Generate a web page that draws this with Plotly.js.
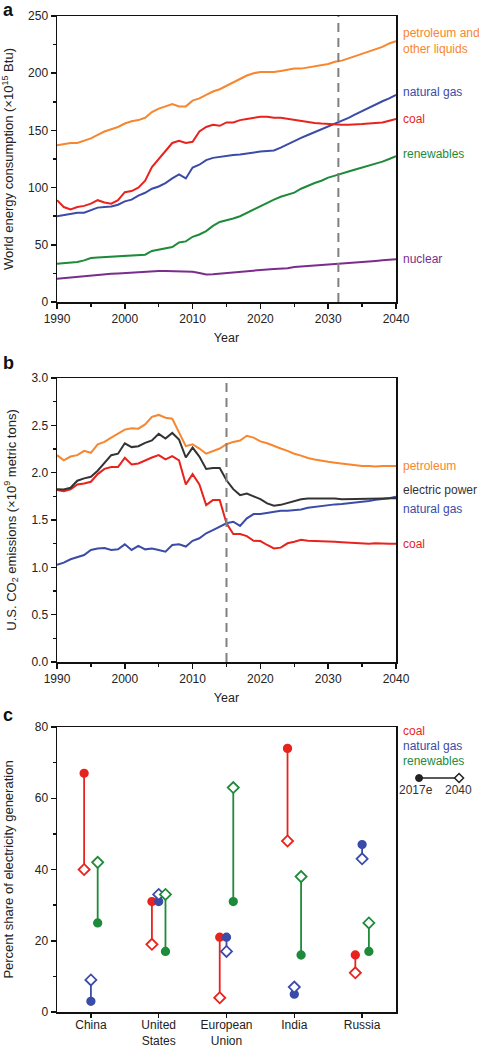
<!DOCTYPE html>
<html>
<head>
<meta charset="utf-8">
<script src="https://cdn.plot.ly/plotly-3.0.1.min.js"></script>
<style>html,body{margin:0;padding:0;background:#fff;}#chart{width:479px;height:1050px;}</style>
</head>
<body>
<div id="chart"></div>
<script>
// ---------- Panel a: world energy consumption (x10^15 Btu) ----------
const yearsA = Array.from({length: 51}, (_, i) => 1990 + i);
const petroleumA = [137,138,139,139,141,143,146,149,151,153, 156,158,159,161,166,169,171,173,171,171, 176,178,181,184,186,189,192,195,198,200, 201,201,201,202,203,204,204,205,206,207, 208,210,211,213,215,217,219,221,223,226,228];
const naturalGasA = [75,76,76.5,78,78,80,82.5,83,83.5,85, 88,89.5,93,95.5,99,101,104,108,111.5,108, 117.5,120,124,126,127,128,128.5,129,130,131, 131.5,132,132.5,135,138,141,143.5,146,148.5,150.5, 153,155.5,158,161,164,167,170,172.5,175.5,178,181];
const coalA = [89,83,81,83,84,86,89,87,86,89, 96,97,100,106,118,125,133,139,141,139, 140,149,153,155,154,157,157,159,160,161, 162,162,161,161,160,159,158,157,156.5,156, 155.5,155,155,155,155,155.5,156,156.5,157,158.5,160];
const renewablesA = [33.5,34,34.4,35,36.4,38.5,39,39.4,39.7,40, 40.5,40.7,41,41.4,44.6,45.8,47,48,52,53, 57,59,62,66.5,70,71.4,73,75,78,81, 84,87,89.5,92,93.6,95.6,99,101.7,104,106, 108.7,110.5,112,114,115.8,117.5,119.3,121,122.7,125,127.4];
const nuclearA = [20.4,21,21.5,22,22.7,23.3,23.8,24.2,24.6,25, 25.4,25.8,26.2,26.4,26.7,27,27,26.8,26.5,26.2, 26.5,25.4,24,24.2,24.8,25.4,25.9,26.4,27,27.6, 28.3,28.5,28.8,29,29.6,30.6,31,31.5,32,32.5, 33,33.4,33.8,34.2,34.6,35,35.4,35.9,36.4,36.9,37.3];
const markerYearA = 2031.5;

// ---------- Panel b: U.S. CO2 emissions (x10^9 metric tons) ----------
const yearsB = Array.from({length: 51}, (_, i) => 1990 + i);
const petroleumB = [2.185,2.13,2.17,2.185,2.23,2.21,2.30,2.325,2.37,2.41, 2.455,2.47,2.465,2.51,2.59,2.61,2.58,2.57,2.43,2.28, 2.30,2.255,2.20,2.23,2.255,2.30,2.325,2.34,2.39,2.37, 2.33,2.31,2.28,2.255,2.23,2.20,2.18,2.155,2.14,2.125, 2.115,2.105,2.095,2.085,2.08,2.07,2.07,2.065,2.07,2.07,2.07];
const electricB = [1.826,1.823,1.84,1.915,1.94,1.956,2.02,2.10,2.185,2.20, 2.31,2.27,2.28,2.315,2.34,2.41,2.36,2.42,2.35,2.16, 2.265,2.17,2.04,2.05,2.05,1.92,1.826,1.763,1.78,1.75, 1.72,1.675,1.65,1.66,1.68,1.70,1.72,1.728,1.728,1.735, 1.735,1.728,1.72,1.72,1.72,1.72,1.72,1.725,1.728,1.73,1.73];
const naturalGasB = [1.026,1.05,1.085,1.106,1.13,1.184,1.20,1.205,1.184,1.19, 1.243,1.184,1.226,1.19,1.198,1.184,1.166,1.236,1.243,1.22, 1.28,1.307,1.36,1.394,1.43,1.465,1.482,1.437,1.517,1.563, 1.563,1.577,1.588,1.598,1.598,1.605,1.612,1.63,1.64,1.65, 1.658,1.665,1.668,1.675,1.68,1.693,1.70,1.714,1.72,1.73,1.746];
const coalB = [1.816,1.805,1.823,1.876,1.886,1.904,1.985,2.04,2.06,2.06, 2.157,2.086,2.097,2.13,2.16,2.185,2.14,2.174,2.13,1.876, 1.985,1.876,1.658,1.71,1.71,1.465,1.352,1.352,1.33,1.28, 1.278,1.236,1.20,1.208,1.254,1.27,1.29,1.28,1.278,1.278, 1.278,1.27,1.265,1.26,1.257,1.254,1.25,1.254,1.25,1.25,1.25];
const markerYearB = 2015;

// ---------- Panel c: percent share of electricity generation ----------
const countries = ['China', 'United<br>States', 'European<br>Union', 'India', 'Russia'];
const coal2017 = [67, 31, 21, 74, 16];
const coal2040 = [40, 19, 4, 48, 11];
const gas2017 = [3, 31, 21, 5, 47];
const gas2040 = [9, 33, 17, 7, 43];
const renew2017 = [25, 17, 31, 16, 17];
const renew2040 = [42, 33, 63, 38, 25];

// ---------- styles ----------
const C = {orange: '#F7862E', blue: '#3A4BA8', red: '#E8231E', green: '#1E8A3A', purple: '#7B2D8C', black: '#333333'};
const FONT = '"Liberation Sans", Arial, Helvetica, sans-serif';

const traces = [];
function line(x, y, color, name, xa, ya) {
  traces.push({x: x, y: y, type: 'scatter', mode: 'lines', name: name, xaxis: xa, yaxis: ya,
    line: {color: color, width: 2}, showlegend: false, hoverinfo: 'x+y+name'});
}
line(yearsA, nuclearA, C.purple, 'nuclear', 'x', 'y');
line(yearsA, renewablesA, C.green, 'renewables', 'x', 'y');
line(yearsA, naturalGasA, C.blue, 'natural gas', 'x', 'y');
line(yearsA, coalA, C.red, 'coal', 'x', 'y');
line(yearsA, petroleumA, C.orange, 'petroleum and other liquids', 'x', 'y');

line(yearsB, naturalGasB, C.blue, 'natural gas', 'x2', 'y2');
line(yearsB, coalB, C.red, 'coal', 'x2', 'y2');
line(yearsB, electricB, C.black, 'electric power', 'x2', 'y2');
line(yearsB, petroleumB, C.orange, 'petroleum', 'x2', 'y2');

function dumbbell(v17, v40, offset, color, name) {
  const x = [], y = [], sym = [], col = [], size = [];
  v17.forEach((v, i) => {
    x.push(i + offset, i + offset, null);
    y.push(v, v40[i], null);
    sym.push('circle', 'diamond', 'circle');
    col.push(color, '#ffffff', color);
    size.push(7.5, 8.5, 0);
  });
  traces.push({x: x, y: y, type: 'scatter', mode: 'lines+markers', name: name, xaxis: 'x3', yaxis: 'y3',
    connectgaps: false, showlegend: false, opacity: 1,
    line: {color: color, width: 1.8},
    marker: {symbol: sym, color: col, size: size, opacity: 1, line: {color: color, width: 1.8}}});
}
dumbbell(coal2017, coal2040, -0.1, C.red, 'coal');
dumbbell(gas2017, gas2040, 0, C.blue, 'natural gas');
dumbbell(renew2017, renew2040, 0.1, C.green, 'renewables');

// ---------- layout ----------
const H = 1050;
const dom = (top, bottom) => [1 - bottom / H, 1 - top / H];
const axisBase = {
  showline: true, linewidth: 1.5, linecolor: '#111', mirror: true,
  ticks: 'outside', ticklen: 5, tickwidth: 1.5, tickcolor: '#111',
  showgrid: false, zeroline: false, fixedrange: true,
  tickfont: {family: FONT, size: 12, color: '#222'}
};
const xTitle = {text: 'Year', font: {family: FONT, size: 12.5, color: '#222'}, standoff: 8};
const yTitleFont = {family: FONT, size: 13, color: '#222'};
const minorTicks = d => ({dtick: d, ticklen: 3, tickwidth: 1.5, ticks: 'outside', tickcolor: '#111', showgrid: false});

const layout = {
  width: 479, height: 1050,
  margin: {l: 57, r: 83, t: 0, b: 0},
  paper_bgcolor: '#ffffff', plot_bgcolor: '#ffffff',
  font: {family: FONT, color: '#222'},
  showlegend: false,
  xaxis: Object.assign({}, axisBase, {domain: [0, 1], anchor: 'y', range: [1990, 2040], dtick: 10,
    minor: minorTicks(5), title: xTitle}),
  yaxis: Object.assign({}, axisBase, {domain: dom(16, 302), anchor: 'x', range: [0, 250], dtick: 50,
    minor: minorTicks(25),
    title: {text: 'World energy consumption (×10<sup>15</sup> Btu)', font: yTitleFont, standoff: 12}}),
  xaxis2: Object.assign({}, axisBase, {domain: [0, 1], anchor: 'y2', range: [1990, 2040], dtick: 10,
    minor: minorTicks(5), title: xTitle}),
  yaxis2: Object.assign({}, axisBase, {domain: dom(378, 662), anchor: 'x2', range: [0, 3], dtick: 0.5, tickformat: '.1f',
    minor: minorTicks(0.25),
    title: {text: 'U.S. CO<sub>2</sub> emissions (×10<sup>9</sup> metric tons)', font: yTitleFont, standoff: 12}}),
  xaxis3: Object.assign({}, axisBase, {domain: [0, 1], anchor: 'y3', range: [-0.5, 4.5], ticklen: 4,
    ticklabelstandoff: -3,
    tickvals: countries.map((_, i) => i), ticktext: countries, tickfont: {family: FONT, size: 12, color: '#222'}}),
  yaxis3: Object.assign({}, axisBase, {domain: dom(727, 1012), anchor: 'x3', range: [0, 80], dtick: 20,
    minor: minorTicks(10),
    title: {text: 'Percent share of electricity generation', font: yTitleFont, standoff: 18}}),
  shapes: [
    {type: 'line', xref: 'x', yref: 'y domain', x0: markerYearA, x1: markerYearA, y0: 0, y1: 1,
      line: {color: '#808080', width: 2, dash: '9px,6px'}},
    {type: 'line', xref: 'x2', yref: 'y2 domain', x0: markerYearB, x1: markerYearB, y0: 0, y1: 1,
      line: {color: '#808080', width: 2, dash: '9px,6px'}},
    // legend glyph for panel c
    {type: 'line', xref: 'paper', yref: 'paper', x0: 1.068, x1: 1.186, y0: 0.259, y1: 0.259,
      line: {color: '#222', width: 1.5}},
    {type: 'circle', xref: 'paper', yref: 'paper', xsizemode: 'pixel', ysizemode: 'pixel',
      xanchor: 1.068, yanchor: 0.259, x0: -3.5, x1: 3.5, y0: -3.5, y1: 3.5,
      fillcolor: '#222', line: {color: '#222', width: 1}},
    {type: 'path', xref: 'paper', yref: 'paper', xsizemode: 'pixel', ysizemode: 'pixel',
      xanchor: 1.186, yanchor: 0.259, path: 'M0,-4.5L4.5,0L0,4.5L-4.5,0Z',
      fillcolor: '#ffffff', line: {color: '#222', width: 1.5}}
  ],
  annotations: []
};

const ann = layout.annotations;
function panelLetter(t, y) {
  ann.push({text: '<b>' + t + '</b>', xref: 'paper', yref: 'paper', x: -0.166, y: y, xanchor: 'left', yanchor: 'middle',
    showarrow: false, font: {family: FONT, size: 18, color: '#111'}});
}
panelLetter('a', 1 - 10 / H);
panelLetter('b', 1 - 363 / H);
panelLetter('c', 1 - 715 / H);

function endLabel(text, yVal, color, yref, yshift) {
  ann.push({text: text, xref: 'paper', yref: yref, x: 1.015, y: yVal, xanchor: 'left', yanchor: 'middle', align: 'left',
    yshift: yshift || 0, showarrow: false, font: {family: FONT, size: 12, color: color}});
}
const last = a => a[a.length - 1];
endLabel('petroleum and<br>other liquids', last(petroleumA), C.orange, 'y');
endLabel('natural gas', last(naturalGasA), C.blue, 'y', 3);
endLabel('coal', last(coalA), C.red, 'y');
endLabel('renewables', last(renewablesA), C.green, 'y', 2);
endLabel('nuclear', last(nuclearA), C.purple, 'y');

endLabel('petroleum', last(petroleumB), C.orange, 'y2');
endLabel('electric power', last(electricB), C.black, 'y2', 8);
endLabel('natural gas', last(naturalGasB), C.blue, 'y2', -12);
endLabel('coal', last(coalB), C.red, 'y2');

// panel c legend texts
endLabel('coal', 1 - 731 / H, C.red, 'paper');
endLabel('natural gas', 1 - 746 / H, C.blue, 'paper');
endLabel('renewables', 1 - 761 / H, C.green, 'paper');
ann.push({text: '2017e', xref: 'paper', yref: 'paper', x: 1.058, y: 1 - 790 / H, xanchor: 'center', yanchor: 'middle',
  showarrow: false, font: {family: FONT, size: 12, color: '#333'}});
ann.push({text: '2040', xref: 'paper', yref: 'paper', x: 1.183, y: 1 - 790 / H, xanchor: 'center', yanchor: 'middle',
  showarrow: false, font: {family: FONT, size: 12, color: '#333'}});

Plotly.newPlot('chart', traces, layout, {displayModeBar: false, staticPlot: true});
</script>
</body>
</html>
